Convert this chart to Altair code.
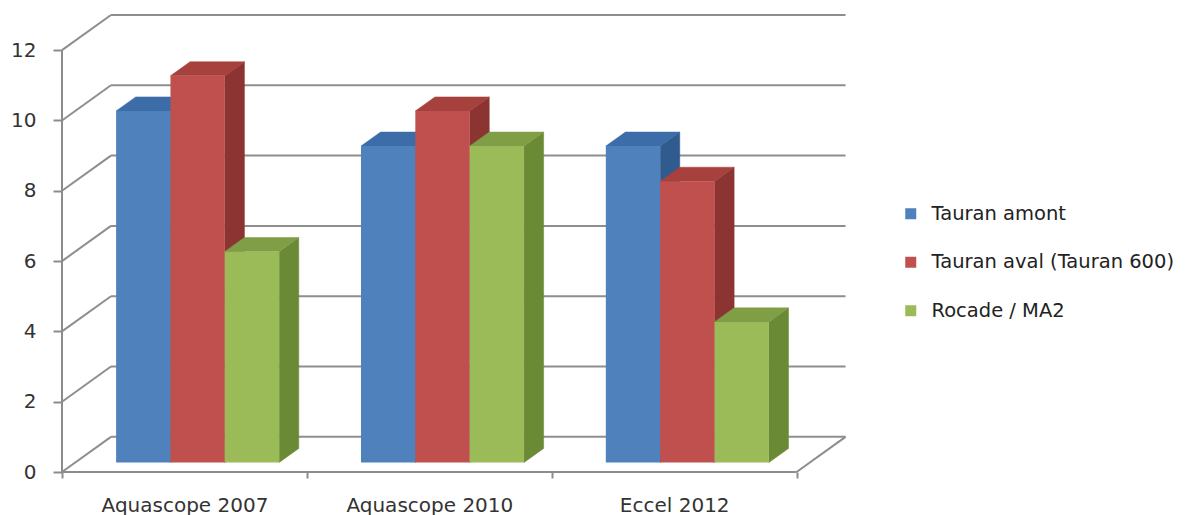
import json

import altair as alt
import pandas as pd

# ---- data -------------------------------------------------------------
categories = ["Aquascope 2007", "Aquascope 2010", "Eccel 2012"]
series = ["Tauran amont", "Tauran aval (Tauran 600)", "Rocade / MA2"]
tauran_amont = [10, 9, 9]
tauran_aval = [11, 10, 8]
rocade_ma2 = [6, 9, 4]
y_ticks = [0, 2, 4, 6, 8, 10, 12]

values = dict(zip(series, [tauran_amont, tauran_aval, rocade_ma2]))

# ---- styling ----------------------------------------------------------
front_colors = ["#4F81BD", "#C0504D", "#9BBB59"]
side_colors = ["#2F5B8F", "#8B3431", "#6B8A35"]
top_colors = ["#3D6DA8", "#A6413E", "#7F9E46"]
FONT = "DejaVu Sans"

# oblique projection of the depth axis (x in category units, y in value units)
DEPTH_X, DEPTH_Y = 0.2, 1.0
BAR_FRONT, BAR_BACK = 0.27, 0.67   # depth fractions occupied by the bars
BAR_W = 0.222                      # bar width in category units

fx, fy = BAR_FRONT * DEPTH_X, BAR_FRONT * DEPTH_Y
ddx = (BAR_BACK - BAR_FRONT) * DEPTH_X
ddy = (BAR_BACK - BAR_FRONT) * DEPTH_Y

# ---- bar geometry -----------------------------------------------------
front_rows, side_rows, top_rows = [], [], []
for i, cat in enumerate(categories):
    for j, name in enumerate(series):
        v = values[name][i]
        x0 = i + 0.5 + (j - 1.5) * BAR_W + fx
        x1 = x0 + BAR_W
        y0, y1 = fy, fy + v
        face = f"{i}-{j}"
        front_rows.append(dict(series=name, category=cat, value=v,
                               x0=x0, x1=x1, y0=y0, y1=y1))
        side_rows += [
            dict(face=face, col=side_colors[j], x=x1, top=y1, bot=y0),
            dict(face=face, col=side_colors[j], x=x1 + ddx, top=y1 + ddy, bot=y0 + ddy),
        ]
        top_rows += [
            dict(face=face, col=top_colors[j], y=y1, xa=x0, xb=x1),
            dict(face=face, col=top_colors[j], y=y1 + ddy, xa=x0 + ddx, xb=x1 + ddx),
        ]

front_df = pd.DataFrame(front_rows)
side_df = pd.DataFrame(side_rows)
top_df = pd.DataFrame(top_rows)

# ---- walls, floor and front axis lines --------------------------------
n_cat = len(categories)
wall_rows = []
for k in y_ticks:
    wall_rows.append(dict(x=DEPTH_X, x2=n_cat + DEPTH_X, y=k + DEPTH_Y, y2=k + DEPTH_Y))
    wall_rows.append(dict(x=0, x2=DEPTH_X, y=k, y2=k + DEPTH_Y))
wall_df = pd.DataFrame(wall_rows)

frame_df = pd.DataFrame([
    dict(x=0, x2=n_cat, y=0, y2=0),
    dict(x=n_cat, x2=n_cat + DEPTH_X, y=0, y2=DEPTH_Y),
    dict(x=0, x2=0, y=0, y2=max(y_ticks)),
])

# ---- scales / axes ----------------------------------------------------
PX_PER_CAT = 245
X_MAX = n_cat + DEPTH_X + 0.01
PLOT_W = round(PX_PER_CAT * X_MAX)
x_scale = alt.Scale(domain=[0, X_MAX], nice=False, zero=False)
y_scale = alt.Scale(domain=[0, 13], nice=False, zero=False)

x_axis = alt.Axis(
    values=list(range(n_cat + 1)),
    labelExpr=f"{json.dumps(categories)}[datum.value] || ''",
    labelOffset=PX_PER_CAT / 2,
    labelOverlap=False, labelFlush=False, labelBound=False,
    tickSize=6, tickColor="#8c8c8c", tickWidth=2,
    labelPadding=17, labelFontSize=20, labelColor="#333333", labelFont=FONT,
    domain=False, grid=False, title=None,
)
y_axis = alt.Axis(
    values=y_ticks, tickSize=9, tickColor="#8c8c8c", tickWidth=2,
    labelPadding=17, labelFontSize=20, labelColor="#333333", labelFont=FONT,
    domain=False, grid=False, title=None,
)


def xq(field):
    return alt.X(field, type="quantitative", scale=x_scale, axis=x_axis)


def yq(field):
    return alt.Y(field, type="quantitative", scale=y_scale, axis=y_axis)


walls = alt.Chart(wall_df).mark_rule(color="#8e8e8e", strokeWidth=2).encode(
    x=xq("x"), x2="x2:Q", y=yq("y"), y2="y2:Q",
)

frame = alt.Chart(frame_df).mark_rule(color="#8c8c8c", strokeWidth=2).encode(
    x=xq("x"), x2="x2:Q", y=yq("y"), y2="y2:Q",
)

sides = alt.Chart(side_df).mark_area(strokeWidth=0.5).encode(
    x=xq("x"), y=yq("top"), y2="bot:Q",
    detail="face:N",
    color=alt.Color("col:N", scale=None),
    stroke=alt.Stroke("col:N", scale=None),
)

tops = alt.Chart(top_df).mark_area(orient="horizontal", strokeWidth=0.5).encode(
    y=yq("y"), x=xq("xa"), x2="xb:Q",
    detail="face:N",
    color=alt.Color("col:N", scale=None),
    stroke=alt.Stroke("col:N", scale=None),
)

fronts = alt.Chart(front_df).mark_rect().encode(
    x=xq("x0"), x2="x1:Q", y=yq("y0"), y2="y1:Q",
    color=alt.Color(
        "series:N",
        sort=series,
        scale=alt.Scale(domain=series, range=front_colors),
        legend=alt.Legend(
            title=None, orient="none", legendX=839, legendY=189,
            symbolType="square", symbolSize=121, symbolStrokeWidth=0,
            labelFontSize=19.5, labelFont=FONT, labelColor="#222222",
            labelLimit=0, labelOffset=11, rowPadding=27.5, padding=0,
        ),
    ),
    tooltip=["category:N", "series:N", "value:Q"],
)

chart = (
    alt.layer(walls, frame, sides, tops, fronts)
    .properties(
        width=PLOT_W,
        height=457,
        autosize=alt.AutoSizeParams(type="none"),
        padding={"left": 62, "top": 15, "right": 1185 - 62 - PLOT_W, "bottom": 43},
        background="white",
    )
    .configure_view(stroke=None)
)

chart.save("out.html", embed_options={"renderer": "svg", "actions": False})
